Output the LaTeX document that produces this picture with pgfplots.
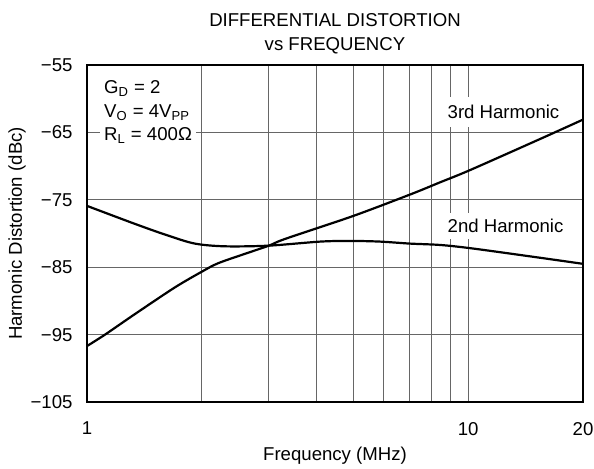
\documentclass[border=0pt]{standalone}
\usepackage{fontspec}
\setmainfont{Liberation Sans}
\usepackage{pgfplots}
\pgfplotsset{compat=1.18}
\begin{document}
\begin{tikzpicture}[font=\fontsize{9.3pt}{11pt}\selectfont]
\begin{axis}[
  scale only axis,
  width=248pt, height=168.5pt,
  xmode=log,
  xmin=1, xmax=20, ymin=-105, ymax=-55,
  xtick={1,10,20}, xticklabels={1,10,20},
  minor xtick={2,3,4,5,6,7,8,9},
  ytick={-105,-95,-85,-75,-65,-55},
  yticklabels={−105,−95,−85,−75,−65,−55},
  xmajorgrids, xminorgrids, ymajorgrids,
  major grid style={black!60, line width=0.5pt},
  minor grid style={black!60, line width=0.5pt},
  major tick length=0pt, minor tick length=0pt,
  axis line style={line width=1.1pt},
  tick label style={font=\fontsize{9.3pt}{11pt}\selectfont},
  xticklabel style={yshift=-6.5pt},
  yticklabel style={xshift=-3.7pt},
  xlabel={Frequency (MHz)},
  ylabel={Harmonic Distortion (dBc)},
  xlabel style={at={(axis description cs:0.5,-0.16)}, anchor=center},
  ylabel style={at={(axis description cs:-0.141,0.5)}, anchor=center},
  title={DIFFERENTIAL DISTORTION\\vs FREQUENCY},
  title style={align=center, at={(axis description cs:0.5,1.057)}, anchor=center,
    font=\fontsize{9.3pt}{12.2pt}\selectfont},
]
% 2nd harmonic
\addplot[black, line width=1.1pt, smooth] coordinates {
(1,-75.9) (1.34,-78.6) (1.63,-80.3) (1.92,-81.5) (2.3,-81.9) (3.0,-81.8)
(4.09,-81.2) (4.9,-81.1) (5.87,-81.2) (7.05,-81.5) (8.44,-81.7) (10.2,-82.2)
(15,-83.5) (20,-84.5)
};
% 3rd harmonic
\addplot[black, line width=1.1pt, smooth] coordinates {
(1,-96.7) (1.115,-95) (1.34,-91.9) (1.7,-88.0) (2.01,-85.6) (2.21,-84.4)
(2.6,-83.0) (3.0,-81.8) (3.31,-80.8) (4.99,-77.4) (7.05,-74.2) (8.44,-72.4)
(10.1,-70.6) (15.4,-66.0) (20,-63.1)
};
\node[anchor=base west, fill=white, inner xsep=2pt, inner ysep=3pt] at (axis cs:1.08,-59.3) {G\textsubscript{D} = 2};
\node[anchor=base west, fill=white, inner xsep=2pt, inner ysep=3pt] at (axis cs:1.08,-62.85) {V\textsubscript{O} = 4V\textsubscript{PP}};
\node[anchor=base west, fill=white, inner xsep=2pt, inner ysep=3pt] at (axis cs:1.08,-66.26) {R\textsubscript{L} = 400Ω};
\node[anchor=base west, fill=white, inner xsep=2pt, inner ysep=4pt] at (axis cs:8.6,-63.0) {3rd Harmonic};
\node[anchor=base west, fill=white, inner xsep=2pt, inner ysep=3pt] at (axis cs:8.6,-79.9) {2nd Harmonic};
\end{axis}
\pgfresetboundingbox
\path[use as bounding box] (-43.5pt,-33pt) rectangle (253.5pt,201pt);
\end{tikzpicture}
\end{document}
